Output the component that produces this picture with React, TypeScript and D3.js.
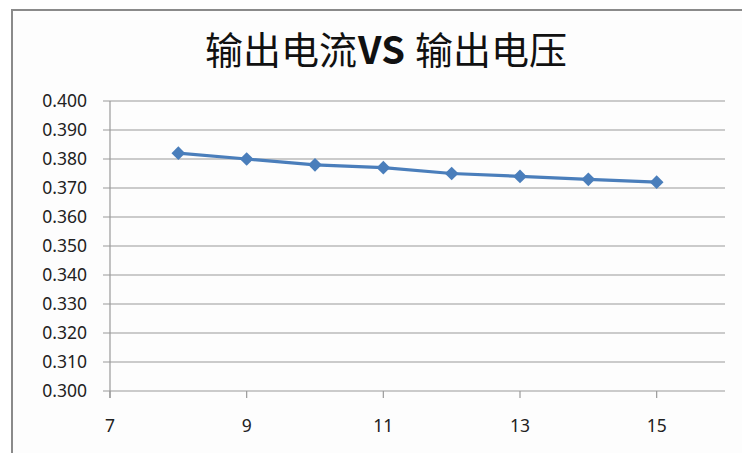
import React from "react";
import * as d3 from "d3";

const xValues = [8, 9, 10, 11, 12, 13, 14, 15];
const yValues = [0.382, 0.38, 0.378, 0.377, 0.375, 0.374, 0.373, 0.372];
const xTicks = [7, 9, 11, 13, 15];
const yTicks = [0.3, 0.31, 0.32, 0.33, 0.34, 0.35, 0.36, 0.37, 0.38, 0.39, 0.4];
const titleLeft = "输出电流";
const titleMid = "VS";
const titleRight = "输出电压";

export default function App() {
  const W = 742, H = 453;
  const x = d3.scaleLinear().domain([7, 16]).range([110, 725]);
  const y = d3.scaleLinear().domain([0.3, 0.4]).range([391, 101]);
  const line = d3.line<number>().x((_, i) => x(xValues[i])).y((d) => y(d));
  const diamond = d3.symbol().type(d3.symbolDiamond2).size(120)();
  const font = "'Noto Sans', 'DejaVu Sans', sans-serif";
  return (
    <svg width={W} height={H} style={{ position: "absolute", left: 0, top: 0 }}>
      <rect x={0} y={0} width={W} height={H} fill="#ffffff" />
      <rect x={12} y={10} width={W} height={H} fill="#fdfdfd" stroke="#8a8a8a" strokeWidth={2} />
      <text x={386} y={64} textAnchor="middle" fontSize={38} fontFamily="'Noto Sans CJK SC', sans-serif" fill="#111">
        <tspan>{titleLeft}</tspan>
        <tspan fontWeight="bold" dx={1}>{titleMid}</tspan>
        <tspan dx={10}>{titleRight}</tspan>
      </text>
      {yTicks.map((t) => (
        <g key={t}>
          <line x1={103} x2={725} y1={y(t)} y2={y(t)} stroke="#9a9a9a" strokeWidth={1.2} />
          <text x={87} y={y(t) + 6} textAnchor="end" fontSize={17.5} fontFamily={font} fill="#222">
            {t.toFixed(3)}
          </text>
        </g>
      ))}
      <line x1={110} x2={110} y1={101} y2={398} stroke="#9a9a9a" strokeWidth={1.2} />
      {xTicks.map((t) => (
        <g key={t}>
          <line x1={x(t)} x2={x(t)} y1={391} y2={398} stroke="#9a9a9a" strokeWidth={1.2} />
          <text x={x(t)} y={432} textAnchor="middle" fontSize={17.5} fontFamily={font} fill="#222">
            {t}
          </text>
        </g>
      ))}
      <path d={line(yValues) || ""} fill="none" stroke="#4a7ebb" strokeWidth={3.2} />
      {yValues.map((v, i) => (
        <path key={i} d={diamond || ""} transform={`translate(${x(xValues[i])},${y(v)})`} fill="#4a7ebb" />
      ))}
    </svg>
  );
}
